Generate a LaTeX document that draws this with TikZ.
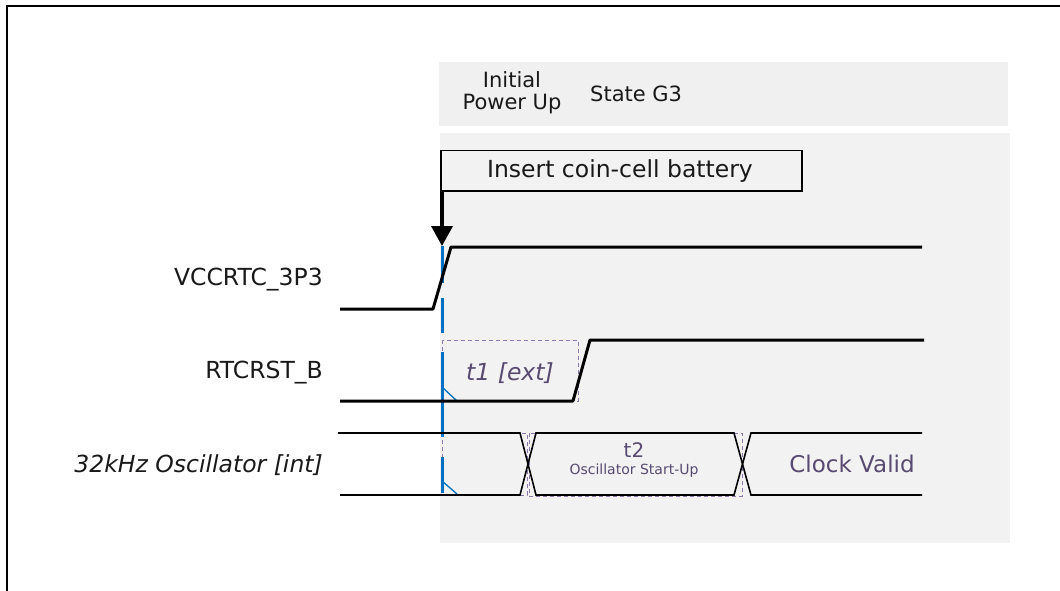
\documentclass[tikz,border=0pt]{standalone}
\usepackage{fontspec}
\setmainfont{DejaVu Sans}
\usetikzlibrary{arrows.meta}
\definecolor{bggrey}{HTML}{F2F2F2}
\definecolor{hdrgrey}{HTML}{F0F0F0}
\definecolor{txtpurple}{HTML}{584A70}
\definecolor{dashpurple}{HTML}{8E78B4}
\definecolor{markblue}{HTML}{0070C0}
\tikzset{
  lbl/.style={inner sep=0pt, font=\fontsize{23.5}{28}\selectfont, text=black!90},
  sig/.style={line width=3pt, black, line join=round},
  bus/.style={line width=1.6pt, black},
  tbox/.style={dashpurple, line width=1pt, dash pattern=on 4pt off 3pt},
  bluemark/.style={markblue, line width=3pt},
  bluetick/.style={markblue, line width=1.3pt},
  frameline/.style={line width=2pt, black},
}
\begin{document}
\begin{tikzpicture}[x=1pt,y=-1pt]
\useasboundingbox (0,0) rectangle (1060,591);
% frame (top and left edges)
\draw[frameline] (7,591) -- (7,6) -- (1060,6);
% grey areas
\fill[hdrgrey] (439,62) rectangle (1008,126);
\fill[bggrey] (440,133) rectangle (1010,543);
% header texts
\node[lbl, font=\fontsize{21}{22}\selectfont, align=center, anchor=base] (init) at (512,110) {Initial\\Power Up};
\node[lbl, font=\fontsize{21}{24}\selectfont, anchor=base west] (g3) at (590,102) {State G3};
% signal labels
\node[lbl, anchor=base east] (lvcc) at (323,285) {VCCRTC\_3P3};
\node[lbl, anchor=base east] (lrst) at (323,378) {RTCRST\_B};
\node[lbl, anchor=base east] (losc) at (323,472) {\itshape 32kHz Oscillator [int]};
% dashed timing boxes
\draw[tbox] (442,340) rectangle (578,401);
\draw[tbox] (442,433) rectangle (527,495);
\draw[tbox] (529,433) rectangle (742,496);
% blue marker
\draw[bluemark] (442,246) -- (442,283);
\draw[bluemark] (442,298) -- (442,333);
\draw[bluemark] (442,352) -- (442,437);
\draw[bluemark] (442,457) -- (442,493);
\draw[bluetick] (442,387) -- (457,401);
\draw[bluetick] (442,481) -- (457,494);
% VCCRTC_3P3
\draw[sig] (340,309) -- (433,309) -- (451,247) -- (922,247);
% RTCRST_B
\draw[sig] (340,401) -- (573,401) -- (590,340) -- (924,340);
% oscillator bus
\draw[bus] (338,433) -- (520,433) -- (536,495) -- (734,495) -- (751,433) -- (922,433);
\draw[bus] (340,495) -- (520,495) -- (536,433) -- (734,433) -- (751,495) -- (922,495);
% timing texts
\node[lbl, text=txtpurple, anchor=base] (t1) at (510,380) {\itshape t1 [ext]};
\node[lbl, text=txtpurple, font=\fontsize{20}{24}\selectfont, anchor=base] (t2) at (634,457) {t2};
\node[lbl, text=txtpurple, font=\fontsize{14}{16}\selectfont, anchor=base] (t2s) at (634,474) {Oscillator Start-Up};
\node[lbl, text=txtpurple, font=\fontsize{23}{28}\selectfont, anchor=base] (cv) at (852,472) {Clock Valid};
% insert coin-cell box and arrow
\node[draw, line width=1.5pt, fill=bggrey, minimum width=361pt, minimum height=40pt, inner sep=0pt, anchor=north west] (ins) at (440,150) {};
\node[lbl, anchor=base] (inst) at (620,177) {Insert coin-cell battery};
\coordinate (tip) at (442,246);
\draw[line width=3.5pt, -{Triangle[width=21pt,length=20pt]}] (ins.south -| tip) -- (tip);
\end{tikzpicture}
\end{document}
